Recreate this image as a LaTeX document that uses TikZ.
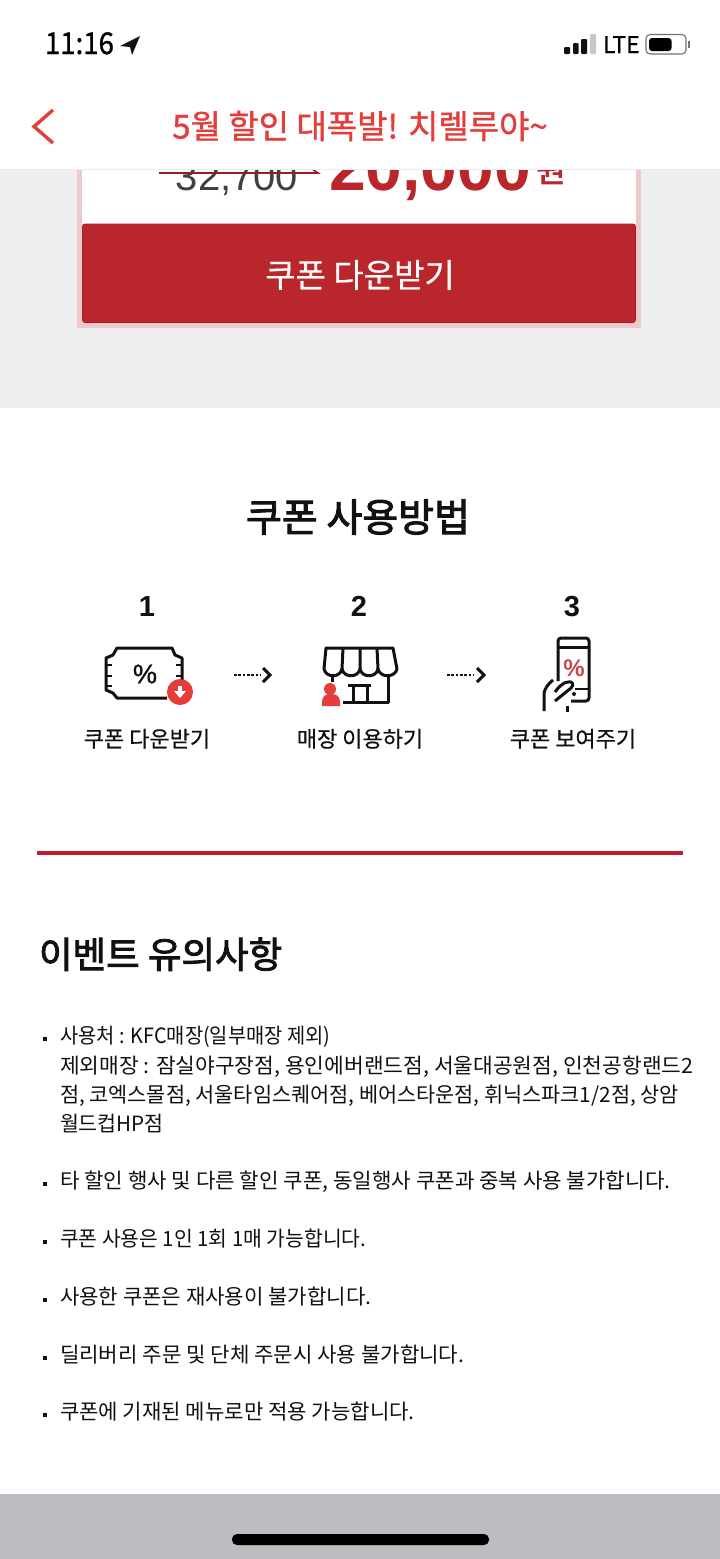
\documentclass[tikz,border=0pt]{standalone}
\usepackage{fontspec}
\usepackage{graphicx}
\setmainfont{Noto Sans CJK KR}
\newfontfamily\latinsf{Liberation Sans}
\newfontfamily\latinmed[FakeBold=1]{Liberation Sans}
\newfontfamily\medf[FakeBold=0.5]{Noto Sans CJK KR}
\newfontfamily\titlef[FakeBold=1.1]{Noto Sans CJK KR}
\newfontfamily\semif[FakeBold=2.4]{Noto Sans CJK KR}
\definecolor{kred}{HTML}{B9262C}
\definecolor{divred}{HTML}{BC1F2C}
\definecolor{hred}{HTML}{E43D3A}
\definecolor{pagegray}{HTML}{EEEEEE}
\definecolor{bordpink}{HTML}{EFC8C9}
\definecolor{barbot}{HTML}{BDBCC1}
\definecolor{ink}{HTML}{111111}
\newcommand{\fsz}[1]{\fontsize{#1}{#1}\selectfont}
\newcommand{\hs}[2]{\scalebox{#1}[1]{#2}}
\tikzset{
  x=1pt,y=-1pt,
  txt/.style={inner sep=0pt,outer sep=0pt,text=ink},
  body/.style={txt,anchor=base west,font=\fsz{21}},
  bul/.style={fill=ink,draw=none,minimum size=4pt,inner sep=0pt},
  steptxt/.style={txt,anchor=base,font=\fsz{22}\medf},
  stepnum/.style={txt,anchor=base,font=\fsz{29}\latinsf\bfseries},
  icon/.style={draw=ink,line width=3pt,line join=round,fill=none},
  thinicon/.style={draw=ink,line width=2.4pt,fill=none},
  dotlink/.style={draw=ink,line width=2.8pt,dash pattern=on 2.6pt off 1.7pt},
  chev/.style={draw=ink,line width=3pt,line join=miter},
}
\begin{document}
\begin{tikzpicture}
\useasboundingbox (0,0) rectangle (720,1559);
\fill[white] (0,0) rectangle (720,1559);
% gray panel
\fill[pagegray] (0,169) rectangle (720,408);
% coupon card
\fill[bordpink] (77,169) rectangle (641,328);
\fill[white] (82,169) rectangle (636,224);
\begin{scope}
\clip (0,169) rectangle (720,230);
\node[txt,anchor=base,font=\fsz{40},text=black!75] (oldprice) at (237,190) {\latinsf 32,700};
\node[txt,anchor=base,font=\fsz{66}\bfseries,text=kred] (newprice) at (430,190) {\latinsf\bfseries 20,000};
\node[txt,anchor=base,font=\fsz{32}\semif,text=kred] (won) at (551,182) {원};
\draw[kred!80!black,line width=1.6pt] (159,173) -- (318,173) -- (312,169);
\end{scope}
\fill[kred,draw=kred!85!black,line width=0.6pt,rounded corners=2.5pt] (82.5,224) rectangle (635.5,322.5);
\node[txt,font=\fsz{33}\medf,text=white!95!pink] (btn) at (360,275) {쿠폰 다운받기};
% header
\fill[white] (0,0) rectangle (720,169);
\draw[black!8,line width=0.8pt] (0,169) -- (720,169);
% status bar
\node[txt,anchor=base west,font=\fsz{30}\titlef,text=black] (time) at (45,54) {\hs{0.92}{11:16}};
\fill[ink] (120,46) -- (140,36) -- (132,55) -- (130,47) -- cycle;
\fill[ink,rounded corners=1pt] (564,47) rectangle (570,54);
\fill[ink,rounded corners=1pt] (573,43) rectangle (578.5,54);
\fill[ink,rounded corners=1pt] (581,39) rectangle (587,54);
\fill[black!22,rounded corners=1pt] (590,34) rectangle (596,54);
\node[txt,anchor=base west,font=\fsz{23}\medf,text=black] (lte) at (603,53) {LTE};
\draw[black!55,line width=1.1pt,rounded corners=4pt] (646,34.5) rectangle (686,54);
\fill[black,rounded corners=3pt] (649,38) rectangle (671.5,51);
\fill[black!55] (688,41) rectangle (690,48);
% back chevron + title
\draw[hred,line width=3.4pt] (53,110) -- (34,126.5) -- (53,143);
\node[txt,font=\fsz{33}\titlef,text=hred] (title) at (360,126) {5월 할인 대폭발! 치렐루야\textasciitilde};
% how-to
\node[txt,font=\fsz{39}\semif] (howto) at (358,517) {쿠폰 사용방법};
\node[stepnum] (n1) at (147,616) {1};
\node[stepnum] (n2) at (359,616) {2};
\node[stepnum] (n3) at (572,616) {3};
% ticket icon
\draw[icon] (167,698) -- (117,698) -- (113,693) -- (106,690) -- (106,658) -- (113,655) -- (117,648) -- (172,648) -- (175,655) -- (182,658) -- (182,680);
\draw[thinicon] (106,665)--(112,665) (106,676)--(112,676) (106,686)--(112,686) (176,665)--(182,665) (176,676)--(182,676);
\node[txt,font=\fsz{27}] (pct1) at (145,674) {\latinmed\%};
\fill[hred] (180,692) circle (13);
\fill[white] (178,686) rectangle (182,692);
\fill[white] (174,691) -- (186,691) -- (180,698) -- cycle;
% shop icon
\draw[icon] (326,648) -- (393,648) -- (397,669) .. controls (395,678) and (380,678) .. (378,669) .. controls (376,678) and (362,678) .. (360,669) .. controls (358,678) and (344,678) .. (342,669) .. controls (340,678) and (326,678) .. (324,669) -- cycle;
\draw[icon] (343,648)--(342,669) (360,648)--(360,669) (377,648)--(378,669);
\draw[icon] (332,676)--(332,682);
\draw[icon] (388,676)--(388,702) -- (343,702);
\draw[icon] (348,685)--(371,685) (353,685)--(353,702) (367,685)--(367,702);
\fill[hred] (330,689) circle (6);
\fill[hred] (322,706) -- (322,702) .. controls (322,696) and (326,694) .. (331,694) .. controls (336,694) and (340,696) .. (340,702) -- (340,706) -- cycle;
% phone icon
\draw[icon,rounded corners=3pt] (558,681) -- (558,638) -- (589,638) -- (589,701) -- (571,701);
\draw[thinicon] (558,647.5)--(589,647.5) (575,689)--(589,689);
\node[txt,font=\fsz{24}\bfseries,text=kred!85!white] (pct3) at (574,668) {\latinsf\bfseries\%};
\draw[icon] (544,711) -- (544,693) .. controls (545,688) and (549,683) .. (553,680);
\draw[icon] (555,701) -- (571,688) .. controls (575,684) and (572,681) .. (568,682) .. controls (563,682) and (558,688) .. (555,692);
\fill[ink] (574,694) circle (2);
\draw[icon] (567,706)--(567,712);
% arrows
\coordinate (a1s) at (234,675); \coordinate (a1e) at (261,675);
\draw[dotlink] (a1s) -- (a1e);
\draw[chev] (263,668) -- (270,675) -- (263,682);
\coordinate (a2s) at (447,675); \coordinate (a2e) at (474,675);
\draw[dotlink] (a2s) -- (a2e);
\draw[chev] (477,668) -- (484,675) -- (477,682);
\node[steptxt] (l1) at (147,747) {쿠폰 다운받기};
\node[steptxt] (l2) at (360,747) {매장 이용하기};
\node[steptxt] (l3) at (573,747) {쿠폰 보여주기};
% divider
\fill[divred] (37,850.5) rectangle (683,854.5);
% notes
\node[txt,anchor=base west,font=\fsz{36.5}\semif] (notes) at (39,968) {이벤트 유의사항};
\node[bul] (b1) at (44.5,1038.5) {}; \node[body] (t1) at (60,1043) {\hs{0.944}{사용처 : KFC매장(일부매장 제외)}};
\node[body] (t1b) at (60,1073) {\hs{1.021}{제외매장 : 잠실야구장점, 용인에버랜드점, 서울대공원점, 인천공항랜드2}};
\node[body] (t1c) at (60,1102) {\hs{0.99}{점, 코엑스몰점, 서울타임스퀘어점, 베어스타운점, 휘닉스파크1/2점, 상암}};
\node[body] (t1d) at (60,1131) {\hs{0.98}{월드컵HP점}};
\node[bul] (b2) at (44.5,1183.5) {}; \node[body] (t2) at (60,1188) {\hs{1.01}{타 할인 행사 및 다른 할인 쿠폰, 동일행사 쿠폰과 중복 사용 불가합니다.}};
\node[bul] (b3) at (44.5,1241.5) {}; \node[body] (t3) at (60,1246) {\hs{0.971}{쿠폰 사용은 1인 1회 1매 가능합니다.}};
\node[bul] (b4) at (44.5,1299.5) {}; \node[body] (t4) at (60,1304) {\hs{1.006}{사용한 쿠폰은 재사용이 불가합니다.}};
\node[bul] (b5) at (44.5,1357.5) {}; \node[body] (t5) at (60,1362) {\hs{1.008}{딜리버리 주문 및 단체 주문시 사용 불가합니다.}};
\node[bul] (b6) at (44.5,1414.5) {}; \node[body] (t6) at (60,1419) {\hs{1.005}{쿠폰에 기재된 메뉴로만 적용 가능합니다.}};
% bottom bar
\fill[barbot] (0,1494) rectangle (720,1559);
\fill[black,rounded corners=5pt] (232,1534) rectangle (489,1545);
\end{tikzpicture}
\end{document}
